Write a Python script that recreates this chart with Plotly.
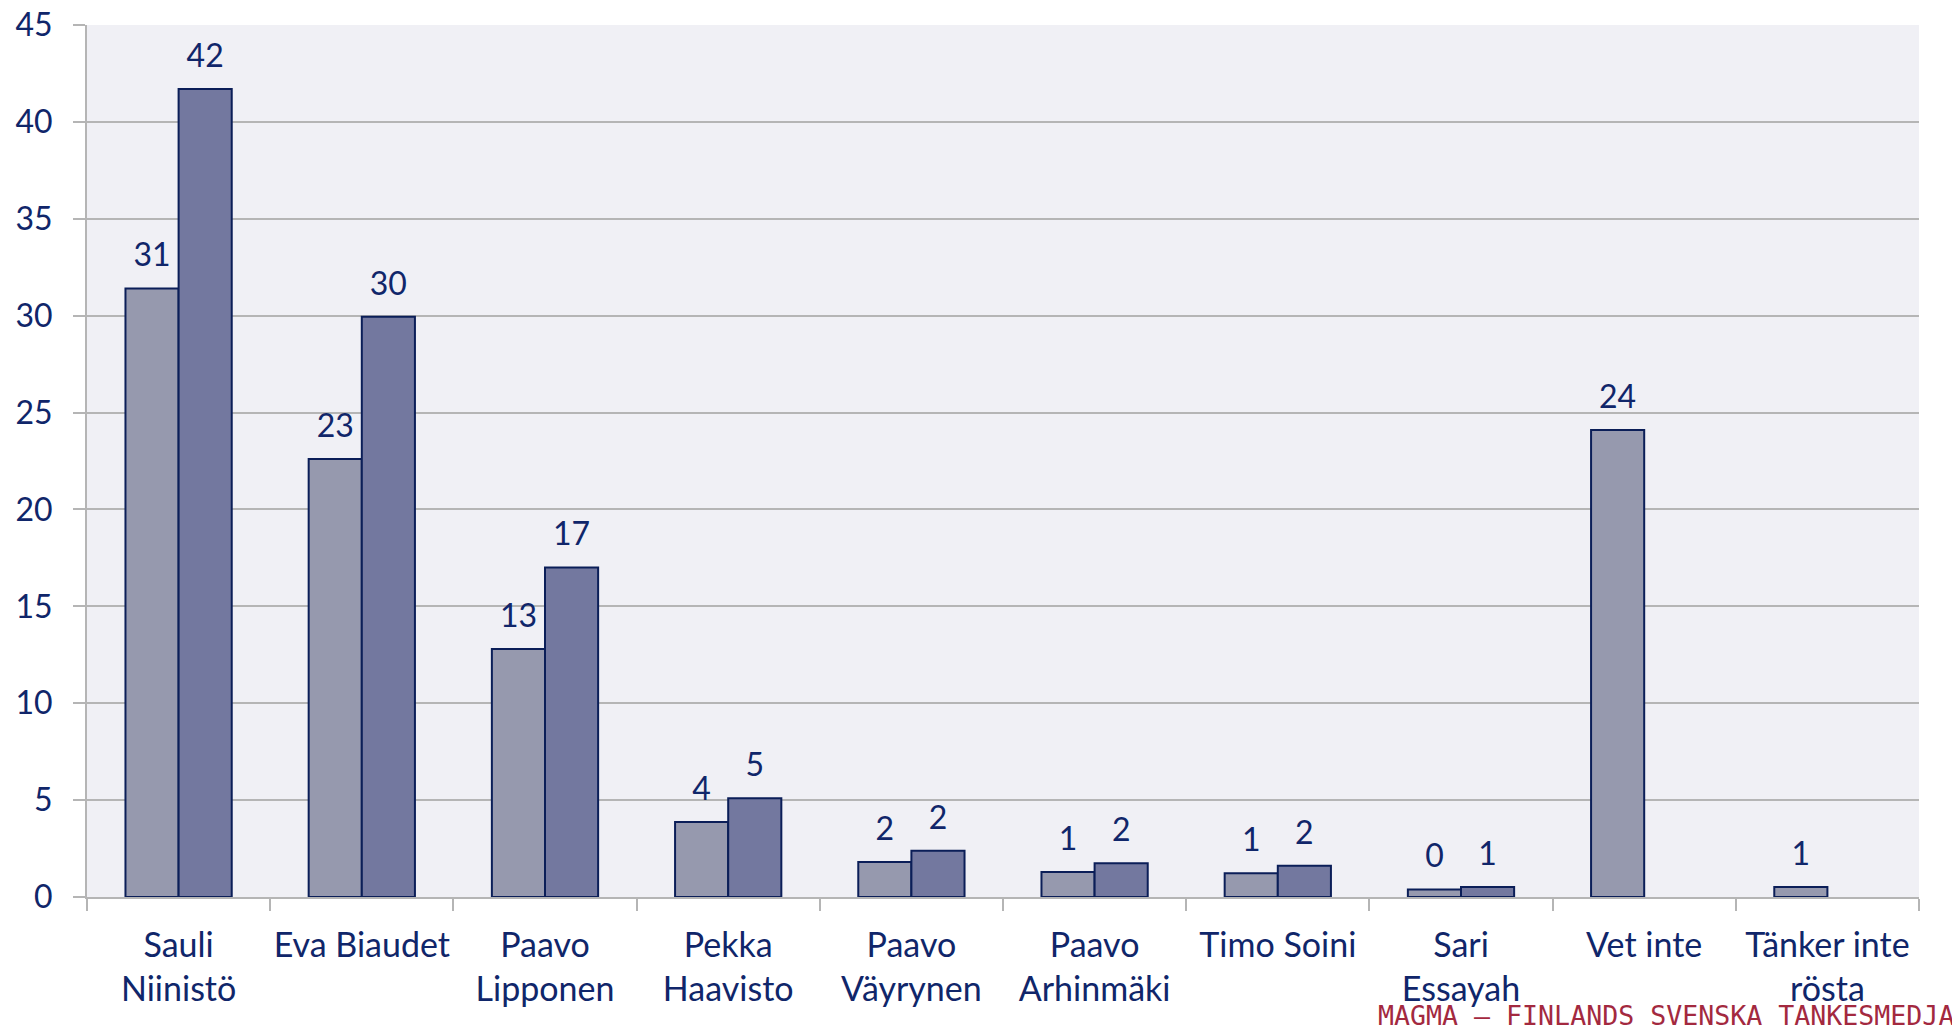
import plotly.graph_objects as go

categories = ["Sauli<br>Niinistö", "Eva Biaudet", "Paavo<br>Lipponen", "Pekka<br>Haavisto",
              "Paavo<br>Väyrynen", "Paavo<br>Arhinmäki", "Timo Soini", "Sari<br>Essayah",
              "Vet inte", "Tänker inte<br>rösta"]
series_a = [31.4, 22.6, 12.8, 3.87, 1.81, 1.29, 1.23, 0.39, 24.1, 0.52]
series_b = [41.7, 29.95, 17.0, 5.1, 2.39, 1.74, 1.61, 0.52, None, None]
y_ticks = [0, 5, 10, 15, 20, 25, 30, 35, 40, 45]

TEXT = "#10266A"
GRID = "#B5B5B5"
FONT = "Lato"

fig = go.Figure()
fig.add_trace(go.Bar(x=categories, y=series_a, name="A", offsetgroup="a",
                     marker=dict(color="#9699AE", line=dict(color="#0B1E58", width=2))))
fig.add_trace(go.Bar(x=categories, y=series_b, name="B", offsetgroup="b",
                     marker=dict(color="#73789F", line=dict(color="#0B1E58", width=2))))
# value labels, positioned by the library in grouped scatter mode
for name, vals in (("a", series_a), ("b", series_b)):
    fig.add_trace(go.Scatter(x=categories, y=vals, offsetgroup=name, mode="markers+text",
                             texttemplate="%{y:.0f}", textposition="top center",
                             textfont=dict(family=FONT, size=32, color=TEXT),
                             marker=dict(size=21, opacity=0), hoverinfo="skip",
                             cliponaxis=False, showlegend=False))

fig.update_layout(
    width=1960, height=1028,
    margin=dict(l=79, r=49, t=17, b=139),
    paper_bgcolor="white", plot_bgcolor="#F0F0F5",
    barmode="group", bargap=0.42, bargroupgap=0,
    scattermode="group", scattergap=0.42,
    showlegend=False,
    font=dict(family=FONT, color=TEXT),
    xaxis=dict(tickson="boundaries", ticks="outside", ticklen=12, tickcolor=GRID, tickwidth=2,
               showline=True, linecolor=GRID, linewidth=2, showgrid=False,
               tickangle=0, automargin=False, ticklabeloverflow="allow",
               tickfont=dict(family=FONT, size=34, color=TEXT), ticklabelstandoff=17),
    yaxis=dict(range=[0, 45], tickvals=y_ticks, ticks="outside", ticklen=12, tickcolor=GRID,
               tickwidth=2, showline=True, linecolor=GRID, linewidth=2, automargin=False,
               showgrid=True, gridcolor=GRID, gridwidth=2, zeroline=False,
               ticklabeloverflow="allow",
               tickfont=dict(family=FONT, size=32, color=TEXT), ticklabelstandoff=14),
    annotations=[dict(text="MAGMA – FINLANDS SVENSKA TANKESMEDJA", xref="paper", yref="paper",
                      x=1.0202, y=-0.1555, xanchor="right", yanchor="bottom", showarrow=False,
                      font=dict(family="DejaVu Sans Mono", size=26.6, color="#A3293F"))],
)

fig.write_html("out.html")
